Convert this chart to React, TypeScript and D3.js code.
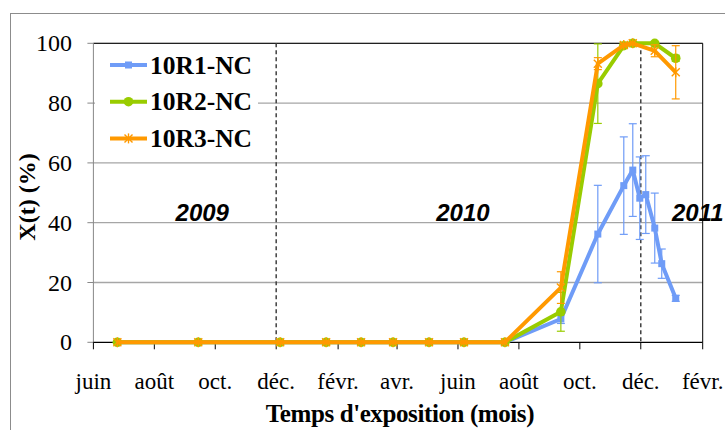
import React from 'react';
import * as d3 from 'd3';

// x axis: ticks every two months from juin 2009
const tickLabels = ['juin', 'août', 'oct.', 'déc.', 'févr.', 'avr.', 'juin', 'août', 'oct.', 'déc.', 'févr.'];
const yTicks = [0, 20, 40, 60, 80, 100];

// sampling dates (shared start of the three series)
const zeroDates = ['2009-06-25', '2009-09-14', '2009-12-05', '2010-01-20', '2010-02-24', '2010-03-28', '2010-05-03', '2010-06-07', '2010-07-18'];

const r1Dates = [...zeroDates, '2010-09-12', '2010-10-19', '2010-11-14', '2010-11-23', '2010-11-30', '2010-12-06', '2010-12-15', '2010-12-22', '2011-01-05'];
const r1Values = [0, 0, 0, 0, 0, 0, 0, 0, 0, 7.8, 36.2, 52.4, 57.6, 48.2, 49.4, 38.2, 26.3, 14.7];
const r1Errors = [0, 0, 0, 0, 0, 0, 0, 0, 0, 1.5, 16.3, 16.3, 15.5, 13.8, 13, 11.7, 4.9, 1];

const r2Dates = [...zeroDates, '2010-09-12', '2010-10-19', '2010-11-14', '2010-11-23', '2010-12-15', '2011-01-05'];
const r2Values = [0, 0, 0, 0, 0, 0, 0, 0, 0, 10.2, 86.5, 99.2, 100, 100, 95];
const r2Errors = [0, 0, 0, 0, 0, 0, 0, 0, 0, 6.5, 13.3, 0.5, 0, 0.5, 1];

const r3Dates = [...zeroDates, '2010-09-12', '2010-10-19', '2010-11-14', '2010-11-23', '2010-12-15', '2011-01-05'];
const r3Values = [0, 0, 0, 0, 0, 0, 0, 0, 0, 18.3, 93.2, 99.4, 100, 97.5, 90.3];
const r3Errors = [0, 0, 0, 0, 0, 0, 0, 0, 0, 5.3, 2, 0.5, 0, 2, 8.9];

const yearLabels = ['2009', '2010', '2011'];
const yearDates = ['2009-09-18', '2010-06-06', '2011-01-27'];
const dividerDates = ['2009-12-01', '2010-12-01'];

const parse = d3.utcParse('%Y-%m-%d');

type Pt = { date: Date; value: number; err: number };
const mk = (dates: string[], vals: number[], errs: number[]): Pt[] =>
  dates.map((d, i) => ({ date: parse(d) as Date, value: vals[i], err: errs[i] }));

const series = [
  { name: '10R1-NC', color: '#6F9CF7', marker: 'square', pts: mk(r1Dates, r1Values, r1Errors) },
  { name: '10R2-NC', color: '#99CC00', marker: 'circle', pts: mk(r2Dates, r2Values, r2Errors) },
  { name: '10R3-NC', color: '#FF9900', marker: 'star', pts: mk(r3Dates, r3Values, r3Errors) },
];

const Marker = ({ type, x, y, color }: { type: string; x: number; y: number; color: string }) => {
  if (type === 'square') return <rect x={x - 3.5} y={y - 3.5} width={7} height={7} fill={color} />;
  if (type === 'circle') return <circle cx={x} cy={y} r={4.8} fill={color} />;
  const s = 4;
  return (
    <g stroke={color} strokeWidth={1.4}>
      <line x1={x - s} y1={y - s} x2={x + s} y2={y + s} />
      <line x1={x - s} y1={y + s} x2={x + s} y2={y - s} />
      <line x1={x} y1={y - s - 1} x2={x} y2={y + s + 1} />
    </g>
  );
};

const serif = "'Liberation Serif'";
const sans = "'Liberation Sans'";

export default function App() {
  const W = 725, H = 430;
  const left = 93.4, right = 702.7, top = 43.3, bottom = 342.3;
  const start = parse('2009-06-01') as Date;
  const tickDates = tickLabels.map((_, i) => d3.utcMonth.offset(start, 2 * i));

  const x = d3.scaleUtc().domain([start, tickDates[tickDates.length - 1]]).range([left, right]);
  const y = d3.scaleLinear().domain([0, 100]).range([bottom, top]);

  const line = d3.line<Pt>().x(d => x(d.date)).y(d => y(d.value));

  return (
    <svg width={W} height={H} style={{ position: 'absolute', left: 0, top: 0 }}>
      <rect x={0} y={0} width={W} height={H} fill="#fff" />
      <rect x={10.5} y={13.5} width={760} height={460} fill="none" stroke="#8c8c8c" />

      {/* gridlines */}
      {yTicks.slice(1).map(t => (
        <line key={t} x1={left} x2={right} y1={y(t)} y2={y(t)} stroke="#a6a6a6" strokeWidth={1.3} />
      ))}

      {/* plot frame */}
      <line x1={left} x2={right} y1={top} y2={top} stroke="#000" />
      <line x1={right} x2={right} y1={top} y2={bottom} stroke="#000" />
      <line x1={left} x2={left} y1={top} y2={bottom} stroke="#888" />

      {/* y ticks */}
      {yTicks.map(t => (
        <g key={t}>
          <line x1={left - 6} x2={left} y1={y(t)} y2={y(t)} stroke="#888" />
          <text x={72} y={y(t) + 8} textAnchor="end" style={{ fontFamily: serif, fontSize: 24 }}>{t}</text>
        </g>
      ))}

      {/* x axis */}
      <line x1={left} x2={right} y1={bottom} y2={bottom} stroke="#000" strokeWidth={1.2} />
      {tickDates.map((d, i) => (
        <g key={i}>
          <line x1={x(d)} x2={x(d)} y1={bottom} y2={bottom + 7} stroke="#000" />
          <text x={x(d)} y={389} textAnchor="middle" style={{ fontFamily: serif, fontSize: 23 }}>{tickLabels[i]}</text>
        </g>
      ))}

      {/* year dividers */}
      {dividerDates.map(d => (
        <line key={d} x1={x(parse(d) as Date)} x2={x(parse(d) as Date)} y1={top} y2={bottom}
          stroke="#404040" strokeWidth={1.5} strokeDasharray="4,3" />
      ))}

      {yearLabels.map((t, i) => (
        <text key={t} x={x(parse(yearDates[i]) as Date)} y={221} textAnchor="middle"
          style={{ fontFamily: sans, fontWeight: 'bold', fontStyle: 'italic', fontSize: 24 }}>{t}</text>
      ))}

      {/* series */}
      {series.map(s => (
        <g key={s.name}>
          {s.pts.filter(p => p.err > 0.3).map((p, i) => (
            <g key={i} stroke={s.color} strokeWidth={1.2}>
              <line x1={x(p.date)} x2={x(p.date)} y1={y(p.value + p.err)} y2={y(p.value - p.err)} />
              <line x1={x(p.date) - 4} x2={x(p.date) + 4} y1={y(p.value + p.err)} y2={y(p.value + p.err)} />
              <line x1={x(p.date) - 4} x2={x(p.date) + 4} y1={y(p.value - p.err)} y2={y(p.value - p.err)} />
            </g>
          ))}
          <path d={line(s.pts) || ''} fill="none" stroke={s.color} strokeWidth={4} strokeLinejoin="round" />
          {s.pts.map((p, i) => (
            <Marker key={i} type={s.marker} x={x(p.date)} y={y(p.value)} color={s.color} />
          ))}
        </g>
      ))}

      {/* legend */}
      <rect x={95} y={48} width={163} height={108} fill="#fff" />
      {series.map((s, i) => {
        const ly = 65 + i * 36.7;
        return (
          <g key={s.name}>
            <line x1={110} x2={147} y1={ly} y2={ly} stroke={s.color} strokeWidth={4} />
            <Marker type={s.marker} x={128.5} y={ly} color={s.color} />
            <text x={150} y={ly + 8.5} style={{ fontFamily: serif, fontWeight: 'bold', fontSize: 25.5 }}>{s.name}</text>
          </g>
        );
      })}

      {/* axis titles */}
      <text transform={`translate(35, 197) rotate(-90)`} textAnchor="middle"
        style={{ fontFamily: serif, fontWeight: 'bold', fontSize: 24 }}>X(t) (%)</text>
      <text x={400} y={422} textAnchor="middle"
        style={{ fontFamily: serif, fontWeight: 'bold', fontSize: 25, letterSpacing: -0.4 }}>Temps d'exposition (mois)</text>
    </svg>
  );
}
